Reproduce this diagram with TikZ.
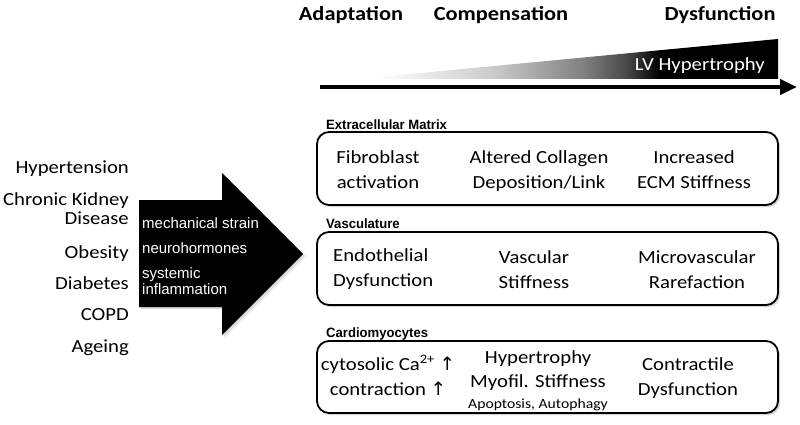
\documentclass[tikz,border=0pt]{standalone}
\usepackage{fontspec}
\setmainfont[FakeStretch=1.12]{Carlito}
\newfontfamily\tagfont[FakeStretch=0.97]{Liberation Sans}
\newfontfamily\arrfont{Liberation Sans}
\newfontfamily\symfont{DejaVu Sans}
\usetikzlibrary{arrows.meta,shadows,positioning}
\pgfdeclarehorizontalshading{lvwedge}{100bp}{color(0bp)=(white); color(27bp)=(white); color(41bp)=(black!20); color(52bp)=(black!50); color(57bp)=(black!72); color(61bp)=(black); color(100bp)=(black)}
\newcommand{\upar}{{\symfont\char"2191}}
\tikzset{
  panel/.style={draw, line width=1.8pt, rounded corners=12pt, fill=white,
    drop shadow={shadow xshift=2pt, shadow yshift=-2pt, opacity=0.35},
    minimum width=461pt, minimum height=73pt, inner sep=0pt},
  cell/.style={align=center, anchor=base, inner sep=0pt, font=\fontsize{18.5}{25}\selectfont},
  cause/.style={align=right, anchor=base east, inner sep=0pt, font=\fontsize{18.5}{19}\selectfont},
  tag/.style={anchor=base west, inner sep=0pt, font=\tagfont\bfseries\fontsize{13.5}{15}\selectfont},
  stage/.style={anchor=base, inner sep=0pt, font=\bfseries\fontsize{20}{24}\selectfont},
  strain/.style={anchor=base west, align=left, inner sep=0pt, text=white, font=\arrfont\fontsize{15}{16}\selectfont},
}

\begin{document}
\begin{tikzpicture}[x=1pt, y=-1pt]
    \useasboundingbox (0,0) rectangle (800,425);
    % stages and LV hypertrophy axis
    \node[stage] (adapt) at (351,21) {Adaptation};
    \node[stage] (comp) at (501,21) {Compensation};
    \node[stage] (dysf) at (720,21) {Dysfunction};
    \shade[shading=lvwedge] (357,79) -- (778,39) -- (778,79) -- cycle;
    \node[anchor=base east, inner sep=0pt, text=white, font=\fontsize{18.5}{22}\selectfont] (lvh) at (765,71) {LV Hypertrophy};
    \coordinate (axisL) at (320,87);
    \coordinate (axisR) at (797,87);
    \draw[line width=4.5pt, -{Triangle[length=17pt,width=15pt]}] (axisL) -- (axisR);

    % risk factors (base = last line)
    \node[cause] (htn) at (129,173) {Hypertension};
    \node[cause] (ckd) at (129,224) {Chronic Kidney\\Disease};
    \node[cause] (obes) at (129,258) {Obesity};
    \node[cause] (diab) at (129,289) {Diabetes};
    \node[cause] (copd) at (129,320) {COPD};
    \node[cause] (age) at (129,352) {Ageing};

    % big arrow
    \fill[black, drop shadow={shadow xshift=2pt, shadow yshift=-2pt, opacity=0.3}]
      (139,200) -- (222,200) -- (222,173) -- (303,254) -- (222,335) -- (222,307) -- (139,307) -- cycle;
    \node[strain] (mech) at (142,228) {mechanical strain};
    \node[strain] (neuro) at (142,253) {neurohormones};
    \node[strain] (infl) at (142,294) {systemic\\inflammation};

    % panels
    \node[tag] (ecmtag) at (326,130) {Extracellular Matrix};
    \node[panel] (ecm) at (547.5,168.5) {};
    \node[cell] (fib) at (378,188) {Fibroblast\\activation};
    \node[cell] (coll) at (539,188) {Altered Collagen\\Deposition/Link};
    \node[cell] (ecms) at (694,188) {Increased\\ECM Stiffness};

    \node[tag] (vasctag) at (326,228) {Vasculature};
    \node[panel] (vasc) at (547.5,268.5) {};
    \node[cell, align=left, anchor=base west] (endo) at (333,286) {Endothelial\\Dysfunction};
    \node[cell] (vstiff) at (534,288) {Vascular\\Stiffness};
    \node[cell] (rare) at (697,288) {Microvascular\\Rarefaction};

    \node[tag] (cardtag) at (326,337) {Cardiomyocytes};
    \node[panel, minimum height=72pt] (card) at (547.5,377) {};
    \node[cell] (calc) at (388,395) {cytosolic Ca\textsuperscript{2+} \upar\\contraction \upar};
    \node[cell, font=\fontsize{18.5}{24}\selectfont] (hyper) at (538,387) {Hypertrophy\\Myofil. Stiffness};
    \node[cell, font=\fontsize{14}{16}\selectfont] (apop) at (538,408) {Apoptosis, Autophagy};
    \node[cell] (contr) at (688,395) {Contractile\\Dysfunction};
\end{tikzpicture}
\end{document}
